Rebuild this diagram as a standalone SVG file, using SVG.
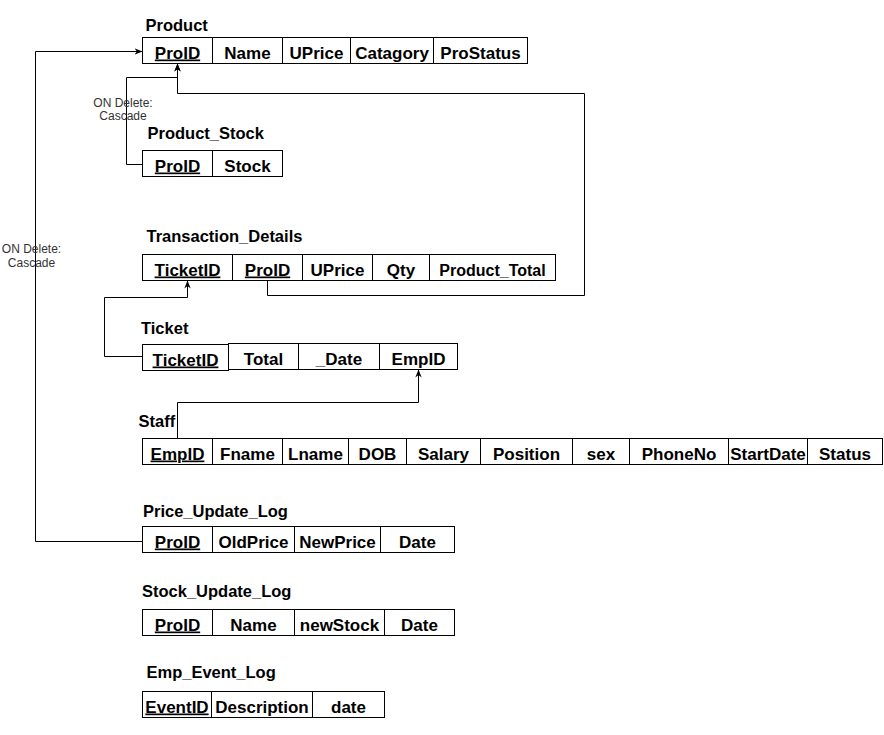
<svg xmlns="http://www.w3.org/2000/svg" width="884" height="735" viewBox="0 0 884 735">
<style>
.bg{fill:#ffffff}
.cell{fill:#ffffff;stroke:#000000;stroke-width:1}
.t{font-family:"Liberation Sans",Arial,sans-serif;font-weight:bold;font-size:17px;fill:#000000;text-anchor:middle}
.pk{text-decoration:underline}
.title{font-family:"Liberation Sans",Arial,sans-serif;font-weight:bold;font-size:16.5px;fill:#000000}
.edge{fill:none;stroke:#000000;stroke-width:1}
.lbl{font-family:"Liberation Sans",Arial,sans-serif;font-size:12px;fill:#333333;text-anchor:middle}
</style>
<defs>
<marker id="arr" viewBox="0 0 10 10" refX="10" refY="5" markerWidth="8" markerHeight="8" markerUnits="userSpaceOnUse" orient="auto">
<path d="M0,1 L10,5 L0,9 L3,5 Z" fill="#000000"/>
</marker>
</defs>
<rect class="bg" x="0" y="0" width="884" height="735"/>

<g id="connectors">
<path class="edge" d="M267.5,280.5 V295.5 H584.5 V93.5 H177.5 V63.5" marker-end="url(#arr)"/>
<path class="edge" d="M142.5,164.5 H126.5 V77.5 H177.5 V63.5" marker-end="url(#arr)"/>
<path class="edge" d="M142.5,541.5 H35.5 V51.5 H142.5" marker-end="url(#arr)"/>
<path class="edge" d="M142.5,356.5 H104.5 V297.5 H187.5 V280.5" marker-end="url(#arr)"/>
<path class="edge" d="M177.5,438.5 V402.5 H418.5 V369.5" marker-end="url(#arr)"/>
<text class="lbl" x="123" y="106.5">ON Delete:</text>
<text class="lbl" x="123" y="120">Cascade</text>
<text class="lbl" x="31.5" y="253">ON Delete:</text>
<text class="lbl" x="31.5" y="266.5">Cascade</text>
</g>

<g id="product">
<text class="title" x="145.5" y="31">Product</text>
<rect class="cell" x="142.5" y="37.5" width="70" height="26"/>
<rect class="cell" x="212.5" y="37.5" width="70" height="26"/>
<rect class="cell" x="282.5" y="37.5" width="68" height="26"/>
<rect class="cell" x="350.5" y="37.5" width="83" height="26"/>
<rect class="cell" x="433.5" y="37.5" width="94" height="26"/>
<text class="t pk" x="177.5" y="58.5">ProID</text>
<text class="t" x="247.5" y="58.5">Name</text>
<text class="t" x="316.5" y="58.5">UPrice</text>
<text class="t" x="392" y="58.5">Catagory</text>
<text class="t" x="480.5" y="58.5">ProStatus</text>
</g>

<g id="product_stock">
<text class="title" x="147.5" y="139.3">Product_Stock</text>
<rect class="cell" x="142.5" y="150.5" width="70" height="26"/>
<rect class="cell" x="212.5" y="150.5" width="70" height="26"/>
<text class="t pk" x="177.5" y="171.5">ProID</text>
<text class="t" x="247.5" y="171.5">Stock</text>
</g>

<g id="transaction_details">
<text class="title" x="146.5" y="241.7">Transaction_Details</text>
<rect class="cell" x="142.5" y="254.5" width="90" height="26"/>
<rect class="cell" x="232.5" y="254.5" width="70" height="26"/>
<rect class="cell" x="302.5" y="254.5" width="70" height="26"/>
<rect class="cell" x="372.5" y="254.5" width="57" height="26"/>
<rect class="cell" x="429.5" y="254.5" width="126" height="26"/>
<text class="t pk" x="187.5" y="275.5">TicketID</text>
<text class="t pk" x="267.5" y="275.5">ProID</text>
<text class="t" x="337.5" y="275.5">UPrice</text>
<text class="t" x="401" y="275.5">Qty</text>
<text class="t" x="492.5" y="275.5" style="font-size:16px">Product_Total</text>
</g>

<g id="ticket">
<text class="title" x="141" y="334">Ticket</text>
<rect class="cell" x="228.5" y="343.5" width="70" height="26"/>
<rect class="cell" x="298.5" y="343.5" width="81" height="26"/>
<rect class="cell" x="379.5" y="343.5" width="78" height="26"/>
<rect class="cell" x="142.5" y="344.5" width="86" height="26"/>
<text class="t pk" x="185.5" y="365.5">TicketID</text>
<text class="t" x="263.5" y="364.5">Total</text>
<text class="t" x="339" y="364.5">_Date</text>
<text class="t" x="418.5" y="364.5">EmpID</text>
</g>

<g id="staff">
<text class="title" x="138.5" y="426.7">Staff</text>
<rect class="cell" x="142.5" y="438.5" width="70" height="26"/>
<rect class="cell" x="212.5" y="438.5" width="70" height="26"/>
<rect class="cell" x="282.5" y="438.5" width="66" height="26"/>
<rect class="cell" x="348.5" y="438.5" width="58" height="26"/>
<rect class="cell" x="406.5" y="438.5" width="74" height="26"/>
<rect class="cell" x="480.5" y="438.5" width="92" height="26"/>
<rect class="cell" x="572.5" y="438.5" width="57" height="26"/>
<rect class="cell" x="629.5" y="438.5" width="99" height="26"/>
<rect class="cell" x="728.5" y="438.5" width="79" height="26"/>
<rect class="cell" x="807.5" y="438.5" width="75" height="26"/>
<text class="t pk" x="177.5" y="459.5">EmpID</text>
<text class="t" x="247.5" y="459.5">Fname</text>
<text class="t" x="315.5" y="459.5">Lname</text>
<text class="t" x="377.5" y="459.5">DOB</text>
<text class="t" x="443.5" y="459.5">Salary</text>
<text class="t" x="526.5" y="459.5">Position</text>
<text class="t" x="601" y="459.5">sex</text>
<text class="t" x="679" y="459.5">PhoneNo</text>
<text class="t" x="768" y="459.5">StartDate</text>
<text class="t" x="845" y="459.5">Status</text>
</g>

<g id="price_update_log">
<text class="title" x="143" y="517.3">Price_Update_Log</text>
<rect class="cell" x="142.5" y="526.5" width="70" height="26"/>
<rect class="cell" x="212.5" y="526.5" width="82" height="26"/>
<rect class="cell" x="294.5" y="526.5" width="86" height="26"/>
<rect class="cell" x="380.5" y="526.5" width="74" height="26"/>
<text class="t pk" x="177.5" y="547.5">ProID</text>
<text class="t" x="253.5" y="547.5">OldPrice</text>
<text class="t" x="337.5" y="547.5">NewPrice</text>
<text class="t" x="417.5" y="547.5">Date</text>
</g>

<g id="stock_update_log">
<text class="title" x="142" y="596.7">Stock_Update_Log</text>
<rect class="cell" x="142.5" y="609.5" width="70" height="26"/>
<rect class="cell" x="212.5" y="609.5" width="82" height="26"/>
<rect class="cell" x="294.5" y="609.5" width="90" height="26"/>
<rect class="cell" x="384.5" y="609.5" width="70" height="26"/>
<text class="t pk" x="177.5" y="630.5">ProID</text>
<text class="t" x="253.5" y="630.5">Name</text>
<text class="t" x="339.5" y="630.5">newStock</text>
<text class="t" x="419.5" y="630.5">Date</text>
</g>

<g id="emp_event_log">
<text class="title" x="146.5" y="678.3">Emp_Event_Log</text>
<rect class="cell" x="142.5" y="691.5" width="69" height="26"/>
<rect class="cell" x="211.5" y="691.5" width="101" height="26"/>
<rect class="cell" x="312.5" y="691.5" width="72" height="26"/>
<text class="t pk" x="177" y="712.5">EventID</text>
<text class="t" x="262" y="712.5">Description</text>
<text class="t" x="348.5" y="712.5">date</text>
</g>
</svg>
